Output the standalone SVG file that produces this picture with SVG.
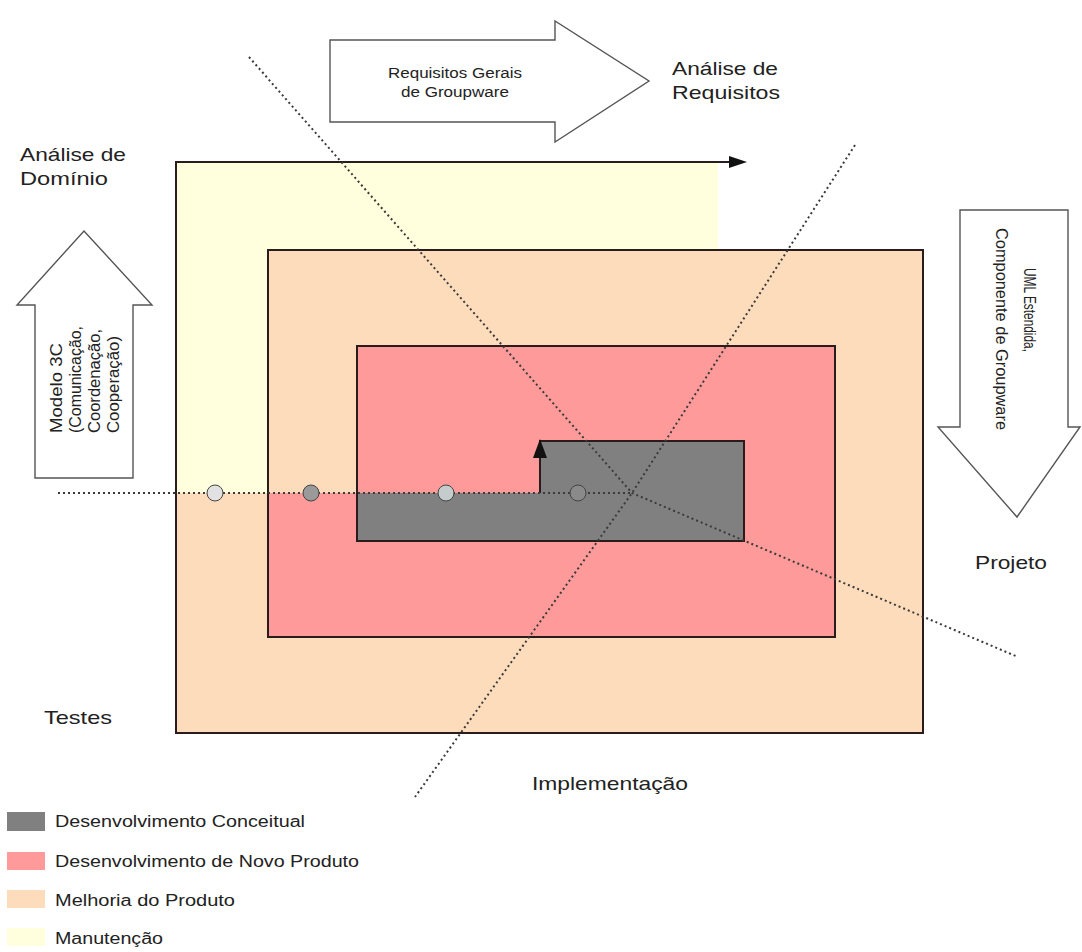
<svg xmlns="http://www.w3.org/2000/svg" width="1082" height="952" viewBox="0 0 1082 952">
  <style>
    .lbl { font-family: "Liberation Sans", Arial, sans-serif; fill: #222; }
    .big { font-size: 18.5px; }
    .small { font-size: 15.5px; }
    .side { font-size: 16px; }
    .legend { font-size: 16px; }
    .block { fill: #fff; stroke: #555; stroke-width: 1.4; }
    .edge { fill: none; stroke: #2a1c1c; stroke-width: 2; }
    .dots { fill: none; stroke: #3a3a3a; stroke-width: 2; stroke-dasharray: 2 3; }
    .mark { stroke: #444; stroke-width: 1; }
  </style>

  <rect width="1082" height="952" fill="#fff"/>

  <!-- phase areas, from outer to inner -->
  <g id="melhoria">
    <rect x="176" y="250" width="747" height="483" fill="#fddcbb"/>
  </g>
  <g id="manutencao">
    <polygon points="176,162 718,162 718,250 268,250 268,493 176,493" fill="#ffffdd"/>
  </g>
  <g id="novo-produto">
    <polygon points="268,493 357,493 357,346 835,346 835,637 268,637" fill="#ff9a9a"/>
  </g>
  <g id="conceitual">
    <polygon points="357,493 540,493 540,441 744,441 744,541 357,541" fill="#808080"/>
  </g>

  <!-- spiral outline -->
  <g id="connectors">
    <path class="edge" d="M540,493 V441 H744 V541 H357 V346 H835 V637 H268 V250 H923 V733 H176 V162 H730"/>
    <polygon points="747,162 729,156 729,168" fill="#111"/>
    <polygon points="540,439 533,458 547,458" fill="#111"/>

    <!-- dotted guide lines -->
    <path class="dots" d="M58,493 H632"/>
    <path class="dots" d="M249,57 L632,493 L1018,657"/>
    <path class="dots" d="M855,145 L632,493 L415,797"/>
  </g>

  <!-- milestones on the axis -->
  <g id="marcos">
    <circle class="mark" cx="215" cy="493" r="8" fill="#e2e2e2"/>
    <circle class="mark" cx="311" cy="493" r="8" fill="#9a9a9a"/>
    <circle class="mark" cx="446" cy="493" r="8" fill="#c4cccc"/>
    <circle class="mark" cx="578" cy="493" r="8" fill="#8a8a8a"/>
  </g>

  <!-- top block arrow -->
  <g id="requisitos-gerais">
    <polygon class="block" points="330,40 555,40 555,21 649,81 555,142 555,122 330,122"/>
    <text class="lbl small" x="388" y="78" textLength="134" lengthAdjust="spacingAndGlyphs">Requisitos Gerais</text>
    <text class="lbl small" x="401" y="97" textLength="108" lengthAdjust="spacingAndGlyphs">de Groupware</text>
  </g>

  <!-- left block arrow, text reads upwards -->
  <g id="modelo-3c">
    <polygon class="block" points="35,478 35,305 17,305 84,231 152,305 133,305 133,478"/>
    <g transform="rotate(-90)">
      <text class="lbl side" x="-433" y="62" textLength="90" lengthAdjust="spacingAndGlyphs">Modelo 3C</text>
      <text class="lbl side" x="-433" y="81" textLength="107" lengthAdjust="spacingAndGlyphs">(Comunicação,</text>
      <text class="lbl side" x="-433" y="100" textLength="104" lengthAdjust="spacingAndGlyphs">Coordenação,</text>
      <text class="lbl side" x="-433" y="119" textLength="97" lengthAdjust="spacingAndGlyphs">Cooperação)</text>
    </g>
  </g>

  <!-- right block arrow, text reads downwards -->
  <g id="uml-estendida">
    <polygon class="block" points="960,210 1068,210 1068,427 1080,427 1017,517 938,427 960,427"/>
    <g transform="rotate(90)">
      <text class="lbl side" x="268" y="-1024" textLength="84" lengthAdjust="spacingAndGlyphs">UML Estendida,</text>
      <text class="lbl side" x="228" y="-996" textLength="202" lengthAdjust="spacingAndGlyphs">Componente de Groupware</text>
    </g>
  </g>

  <!-- phase names -->
  <g id="fases">
    <text class="lbl big" x="672" y="75" textLength="106" lengthAdjust="spacingAndGlyphs">Análise de</text>
    <text class="lbl big" x="672" y="99" textLength="108" lengthAdjust="spacingAndGlyphs">Requisitos</text>
    <text class="lbl big" x="20" y="161" textLength="106" lengthAdjust="spacingAndGlyphs">Análise de</text>
    <text class="lbl big" x="20" y="185" textLength="88" lengthAdjust="spacingAndGlyphs">Domínio</text>
    <text class="lbl big" x="975" y="569" textLength="72" lengthAdjust="spacingAndGlyphs">Projeto</text>
    <text class="lbl big" x="44" y="724" textLength="68" lengthAdjust="spacingAndGlyphs">Testes</text>
    <text class="lbl big" x="532" y="790" textLength="156" lengthAdjust="spacingAndGlyphs">Implementação</text>
  </g>

  <!-- legend -->
  <g id="legenda">
    <rect x="7" y="812" width="38" height="19" fill="#808080"/>
    <text class="lbl legend" x="55" y="827" textLength="250" lengthAdjust="spacingAndGlyphs">Desenvolvimento Conceitual</text>
    <rect x="7" y="852" width="38" height="18" fill="#ff9a9a"/>
    <text class="lbl legend" x="55" y="867" textLength="304" lengthAdjust="spacingAndGlyphs">Desenvolvimento de Novo Produto</text>
    <rect x="7" y="890" width="38" height="18" fill="#fddcbb"/>
    <text class="lbl legend" x="55" y="906" textLength="180" lengthAdjust="spacingAndGlyphs">Melhoria do Produto</text>
    <rect x="7" y="928" width="38" height="18" fill="#ffffdd"/>
    <text class="lbl legend" x="55" y="944" textLength="108" lengthAdjust="spacingAndGlyphs">Manutenção</text>
  </g>
</svg>
